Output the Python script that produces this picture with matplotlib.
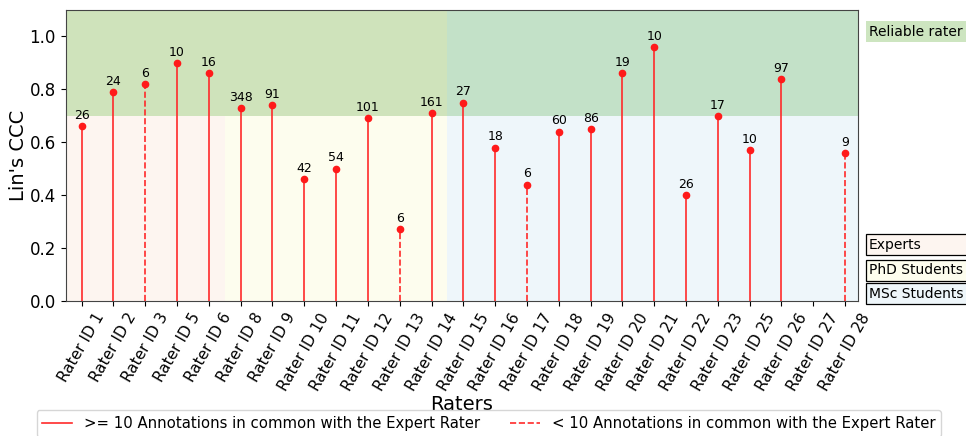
import numpy as np
import matplotlib
matplotlib.use("Agg")
import matplotlib.pyplot as plt
from matplotlib.lines import Line2D
from matplotlib.patches import Rectangle

raters = ["Rater ID 1", "Rater ID 2", "Rater ID 3", "Rater ID 5", "Rater ID 6",
          "Rater ID 8", "Rater ID 9", "Rater ID 10", "Rater ID 11", "Rater ID 12",
          "Rater ID 13", "Rater ID 14", "Rater ID 15", "Rater ID 16", "Rater ID 17",
          "Rater ID 18", "Rater ID 19", "Rater ID 20", "Rater ID 21", "Rater ID 22",
          "Rater ID 23", "Rater ID 25", "Rater ID 26", "Rater ID 27", "Rater ID 28"]
ccc = [0.66, 0.79, 0.82, 0.90, 0.86,
       0.73, 0.74, 0.46, 0.50, 0.69,
       0.27, 0.71, 0.75, 0.58, 0.44,
       0.64, 0.65, 0.86, 0.96, 0.40,
       0.70, 0.57, 0.84, np.nan, 0.56]
n_common = [26, 24, 6, 10, 16,
            348, 91, 42, 54, 101,
            6, 161, 27, 18, 6,
            60, 86, 19, 10, 26,
            17, 10, 97, None, 9]
n_experts = 5
n_phd = 7

x = np.arange(len(raters))

fig = plt.figure(figsize=(9.66, 4.36), dpi=100)
ax = fig.add_axes([0.068, 0.31, 0.82, 0.667])

# group backgrounds
ax.axvspan(-0.5, n_experts - 0.5, ymax=0.7 / 1.1, color="#fdf5f0", lw=0, zorder=0)
ax.axvspan(n_experts - 0.5, n_experts + n_phd - 0.5, ymax=0.7 / 1.1, color="#fdfdee", lw=0, zorder=0)
ax.axvspan(n_experts + n_phd - 0.5, 30, ymax=0.7 / 1.1, color="#eef6fa", lw=0, zorder=0)
ax.axvspan(-0.5, n_experts + n_phd - 0.5, ymin=0.7 / 1.1, color="#cfe3bb", lw=0, zorder=0)
ax.axvspan(n_experts + n_phd - 0.5, 30, ymin=0.7 / 1.1, color="#c3e1c8", lw=0, zorder=0)

for xi, v, n in zip(x, ccc, n_common):
    if np.isnan(v):
        continue
    ls = "-" if n >= 10 else "--"
    ax.vlines(xi, 0, v, colors="#ff2a2a", linestyles=ls, lw=1.2, zorder=2)
    ax.plot(xi, v, "o", color="#ff1a1a", ms=4.5, zorder=3)
    ax.annotate(str(n), (xi, v), xytext=(0, 3), textcoords="offset points",
                ha="center", va="bottom", fontsize=9)

ax.set_xlim(-0.5, 24.4)
ax.set_ylim(0, 1.1)
ax.set_yticks([0.0, 0.2, 0.4, 0.6, 0.8, 1.0])
ax.set_xticks(x)
ax.set_xticklabels(raters, rotation=60, fontsize=11)
ax.tick_params(axis="y", labelsize=12)
ax.set_ylabel("Lin's CCC", fontsize=14, labelpad=1)
ax.set_xlabel("Raters", fontsize=14, labelpad=1)
for s in ax.spines.values():
    s.set_color("#444444")

# group labels on the right
box_items = [("Reliable rater", 21, "#cde5c0", "none"),
             ("Experts", 234, "#fdf5f0", "black"),
             ("PhD Students", 260, "#fdfdee", "black"),
             ("MSc Students", 283, "#eef6fa", "black")]
H = 436.0
for label, top, fc, ec in box_items:
    y0 = 1 - (top + 21) / H
    fig.patches.append(Rectangle((866 / 966, y0), 0.2, 21 / H, transform=fig.transFigure,
                                 fc=fc, ec=ec, lw=0.9, zorder=1))
    fig.text(869 / 966, y0 + 10.5 / H, label, fontsize=10, va="center", ha="left", zorder=2)

handles = [Line2D([0], [0], color="#ff2a2a", lw=1.2, ls="-"),
           Line2D([0], [0], color="#ff2a2a", lw=1.2, ls="--")]
fig.legend(handles, [">= 10 Annotations in common with the Expert Rater",
                     "< 10 Annotations in common with the Expert Rater"],
           loc="upper center", bbox_to_anchor=(0.506, 0.076), ncol=2,
           fontsize=10.7, columnspacing=2.0)

fig.savefig("out.png", dpi=100)
